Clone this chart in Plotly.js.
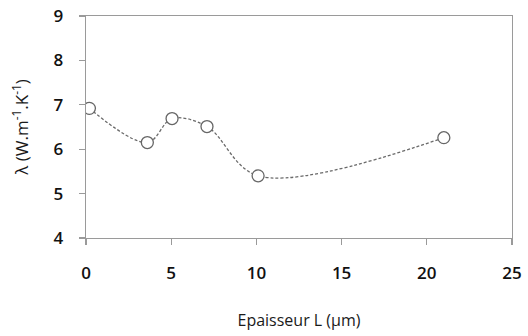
<!DOCTYPE html>
<html>
<head>
<meta charset="utf-8">
<script src="https://cdn.plot.ly/plotly-3.0.1.min.js"></script>
<style>
  html, body { margin: 0; padding: 0; background: #fff; }
  #chart { width: 528px; height: 336px; }
</style>
</head>
<body>
<div id="chart"></div>
<script>
// Thermal conductivity versus layer thickness
const thickness = [0.2, 3.6, 5.05, 7.1, 10.1, 21.0];       // L (µm)
const conductivity = [6.92, 6.15, 6.69, 6.51, 5.40, 6.26]; // λ (W.m-1.K-1)
const xTicks = [0, 5, 10, 15, 20, 25];
const yTicks = [4, 5, 6, 7, 8, 9];

const axisGrey = '#9a9a9a';
const fontFamily = '"Open Sans", "Noto Sans", sans-serif';
const tickFont = { size: 17, family: fontFamily, color: '#111111', weight: 600 };

const trace = {
  x: thickness,
  y: conductivity,
  type: 'scatter',
  mode: 'lines+markers',
  line: { shape: 'spline', smoothing: 1, color: '#6a6a6a', width: 1.3, dash: '3px,2px' },
  marker: { symbol: 'circle', size: 12, color: '#ffffff', line: { color: '#666666', width: 1.3 } },
  hoverinfo: 'skip'
};

const layout = {
  width: 528,
  height: 336,
  margin: { l: 86, r: 16, t: 16, b: 98 },
  paper_bgcolor: '#ffffff',
  plot_bgcolor: '#ffffff',
  showlegend: false,
  font: { family: fontFamily, color: '#1a1a1a' },
  xaxis: {
    range: [0, 25],
    tickvals: xTicks,
    ticktext: xTicks.map(String),
    showgrid: false,
    zeroline: false,
    showline: true,
    mirror: true,
    linecolor: axisGrey,
    linewidth: 1.3,
    ticks: 'outside',
    ticklen: 6,
    tickcolor: axisGrey,
    tickwidth: 1.3,
    ticklabelstandoff: 13,
    tickfont: tickFont,
    title: { text: 'Epaisseur L (µm)', font: { size: 16, family: fontFamily, color: '#1a1a1a' }, standoff: 32 }
  },
  yaxis: {
    range: [4, 9],
    tickvals: yTicks,
    ticktext: yTicks.map(String),
    showgrid: false,
    zeroline: false,
    showline: true,
    mirror: true,
    linecolor: axisGrey,
    linewidth: 1.3,
    ticks: 'outside',
    ticklen: 6,
    tickcolor: axisGrey,
    tickwidth: 1.3,
    ticklabelstandoff: 12,
    tickfont: tickFont,
    title: { text: 'λ (W.m<sup>-1</sup>.K<sup>-1</sup>)', font: { size: 17, family: fontFamily, color: '#1a1a1a' }, standoff: 20 }
  }
};

Plotly.newPlot('chart', [trace], layout, { staticPlot: true, displayModeBar: false });
</script>
</body>
</html>
